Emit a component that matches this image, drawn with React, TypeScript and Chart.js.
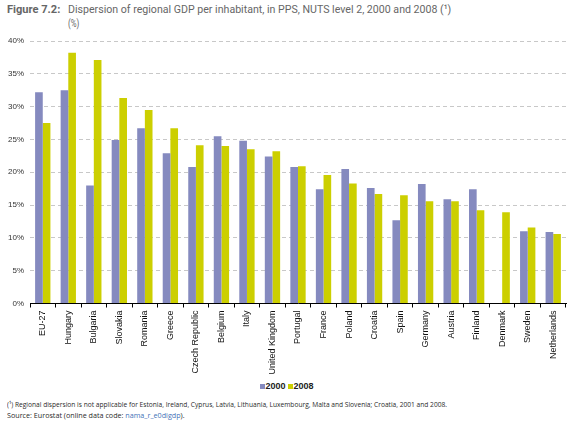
import React, { useEffect, useLayoutEffect, useRef, useState } from "react";
import { Chart, registerables } from "chart.js";

Chart.register(...registerables);

const categories = [
  "EU-27", "Hungary", "Bulgaria", "Slovakia", "Romania", "Greece", "Czech Republic",
  "Belgium", "Italy", "United Kingdom", "Portugal", "France", "Poland", "Croatia",
  "Spain", "Germany", "Austria", "Finland", "Denmark", "Sweden", "Netherlands",
];
const values2000: (number | null)[] = [
  32.2, 32.5, 18.0, 24.9, 26.7, 22.9, 20.8, 25.5, 24.8, 22.4, 20.8,
  17.4, 20.5, 17.6, 12.7, 18.2, 15.9, 17.4, null, 11.0, 10.9,
];
const values2008: (number | null)[] = [
  27.5, 38.2, 37.1, 31.3, 29.5, 26.7, 24.1, 24.0, 23.5, 23.2, 20.9,
  19.6, 18.3, 16.7, 16.5, 15.6, 15.6, 14.2, 13.9, 11.6, 10.6,
];
const yTickValues = [0, 5, 10, 15, 20, 25, 30, 35, 40];
const seriesLabels = ["2000", "2008"];
const seriesColors = ["#858abf", "#cccf00"];

const titleBold = "Figure 7.2:";
const titleText = "Dispersion of regional GDP per inhabitant, in PPS, NUTS level 2, 2000 and 2008 (\u00b9)";
const unitText = "(%)";
const footnoteText =
  "(\u00b9) Regional dispersion is not applicable for Estonia, Ireland, Cyprus, Latvia, Lithuania, Luxembourg, Malta and Slovenia; Croatia, 2001 and 2008.";
const sourcePrefix = "Source: Eurostat (online data code: ";
const sourceCode = "nama_r_e0digdp";
const sourceSuffix = ").";

function FitText(props: {
  left: number;
  top: number;
  width: number;
  style?: React.CSSProperties;
  children: React.ReactNode;
}) {
  const ref = useRef<HTMLDivElement>(null);
  const [scale, setScale] = useState(1);
  useLayoutEffect(() => {
    const el = ref.current;
    if (!el) return;
    const w = el.offsetWidth;
    if (w > 0) setScale(props.width / w);
  }, [props.width]);
  return (
    <div
      ref={ref}
      style={{
        position: "absolute",
        left: props.left,
        top: props.top,
        whiteSpace: "nowrap",
        display: "inline-block",
        transform: `scaleX(${scale})`,
        transformOrigin: "left top",
        ...props.style,
      }}
    >
      {props.children}
    </div>
  );
}

function BarChart() {
  const canvasRef = useRef<HTMLCanvasElement>(null);
  useEffect(() => {
    const canvas = canvasRef.current;
    if (!canvas) return;
    const chart = new Chart(canvas, {
      type: "bar",
      data: {
        labels: categories,
        datasets: [
          {
            label: seriesLabels[0],
            data: values2000,
            backgroundColor: seriesColors[0],
            borderWidth: 0,
            categoryPercentage: 0.6,
            barPercentage: 1.0,
          },
          {
            label: seriesLabels[1],
            data: values2008,
            backgroundColor: seriesColors[1],
            borderWidth: 0,
            categoryPercentage: 0.6,
            barPercentage: 1.0,
          },
        ],
      },
      options: {
        responsive: false,
        animation: false,
        layout: { padding: { top: 11, right: 9, left: 0, bottom: 0 } },
        plugins: {
          legend: { display: false },
          tooltip: { enabled: false },
        },
        scales: {
          x: {
            offset: true,
            grid: {
              display: true,
              drawOnChartArea: false,
              drawTicks: true,
              tickLength: 4,
              color: "#000",
              offset: true,
            },
            border: { display: true, color: "#000", width: 1 },
            ticks: {
              minRotation: 90,
              maxRotation: 90,
              autoSkip: false,
              padding: 3,
              color: "#111",
              font: { family: "Liberation Sans", size: 9 },
            },
            afterFit: (s: any) => {
              s.height = 71.5;
            },
          },
          y: {
            min: 0,
            max: 40,
            afterBuildTicks: (s: any) => {
              s.ticks = yTickValues.map((v) => ({ value: v }));
            },
            ticks: {
              callback: (v: any) => v + "%",
              padding: 6,
              color: "#333",
              font: { family: "Liberation Sans", size: 8 },
            },
            grid: { color: "#c8c8c8", drawTicks: false, lineWidth: 1 },
            border: { display: false, dash: [4, 3] },
            afterFit: (s: any) => {
              s.width = 30;
            },
          },
        },
      },
    });
    return () => chart.destroy();
  }, []);
  return (
    <canvas
      ref={canvasRef}
      width={575}
      height={345}
      style={{ position: "absolute", left: 0, top: 30, width: 575, height: 345 }}
    />
  );
}

export default function App() {
  const titleStyle: React.CSSProperties = {
    fontFamily: "Roboto",
    fontSize: 11.5,
    lineHeight: "12px",
    color: "#666",
  };
  const noteStyle: React.CSSProperties = {
    fontFamily: "Open Sans",
    fontSize: 7.5,
    lineHeight: "9px",
    color: "#2a2a2a",
  };
  return (
    <div
      style={{
        position: "absolute",
        left: 0,
        top: 0,
        width: 575,
        height: 433,
        background: "#fff",
        overflow: "hidden",
      }}
    >
      <FitText left={7} top={3} width={53} style={{ ...titleStyle, fontWeight: 700 }}>
        {titleBold}
      </FitText>
      <FitText left={68} top={3} width={383} style={titleStyle}>
        {titleText}
      </FitText>
      <FitText left={68} top={17} width={11} style={titleStyle}>
        {unitText}
      </FitText>
      <BarChart />
      {seriesLabels.map((lab, i) => (
        <React.Fragment key={lab}>
          <div
            style={{
              position: "absolute",
              left: 260 + i * 28,
              top: 384,
              width: 5,
              height: 5,
              background: seriesColors[i],
            }}
          />
          <div
            style={{
              position: "absolute",
              left: 265.5 + i * 28,
              top: 380.5,
              fontFamily: "Liberation Sans",
              fontWeight: 700,
              fontSize: 9,
              lineHeight: "11px",
              color: "#222",
            }}
          >
            {lab}
          </div>
        </React.Fragment>
      ))}
      <FitText left={7} top={400} width={440} style={noteStyle}>
        {footnoteText}
      </FitText>
      <FitText left={7} top={411} width={178} style={noteStyle}>
        {sourcePrefix}
        <span style={{ color: "#4472b8" }}>{sourceCode}</span>
        {sourceSuffix}
      </FitText>
    </div>
  );
}
